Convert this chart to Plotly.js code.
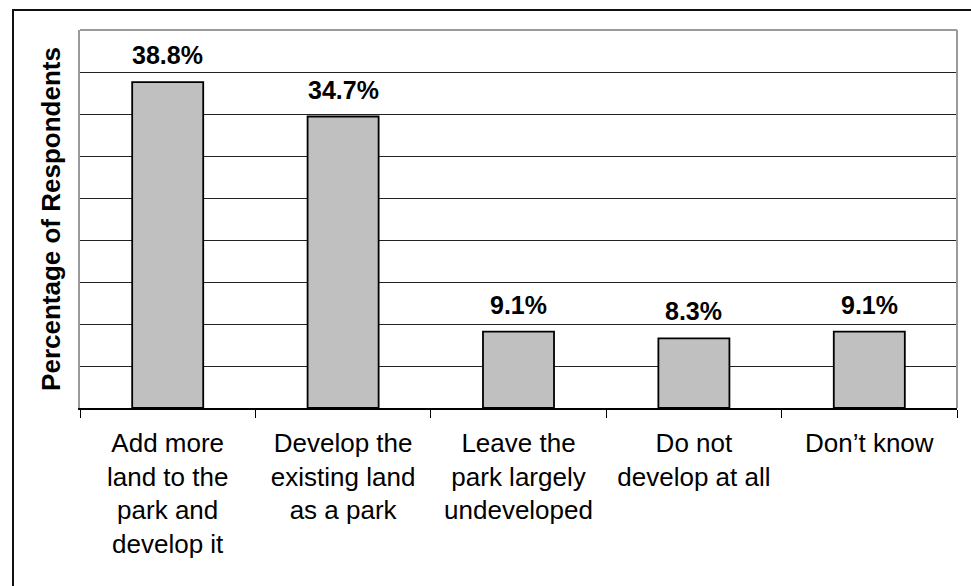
<!DOCTYPE html>
<html>
<head>
<meta charset="utf-8">
<script src="https://cdn.plot.ly/plotly-3.0.1.min.js"></script>
<style>
  html, body { margin: 0; padding: 0; background: #fff; }
  #wrap { position: relative; width: 971px; height: 586px; overflow: hidden; }
  #chart { position: absolute; left: 0; top: 0; width: 971px; height: 586px; }
  #frame { position: absolute; left: 12px; top: 9px; width: 958px; height: 600px;
           border-left: 2px solid #111; border-top: 2px solid #111; pointer-events: none; }
</style>
</head>
<body>
<div id="wrap">
  <div id="chart"></div>
  <div id="frame"></div>
</div>
<script>
// Survey responses: preferred future for the park
const categories = [
  "Add more<br>land to the<br>park and<br>develop it",
  "Develop the<br>existing land<br>as a park",
  "Leave the<br>park largely<br>undeveloped",
  "Do not<br>develop at all",
  "Don\u2019t know"
];
const percentages = [38.8, 34.7, 9.1, 8.3, 9.1];
const gridValues = [5, 10, 15, 20, 25, 30, 35, 40];

const FONT = "Liberation Sans, Arial, Helvetica, sans-serif";

const trace = {
  type: "bar",
  x: categories,
  y: percentages,
  marker: { color: "#c0c0c0", line: { color: "#000", width: 1.8 } },
  hoverinfo: "skip"
};

// value labels above each bar
const labels = categories.map((c, i) => ({
  x: c, y: percentages[i], xref: "x", yref: "y",
  text: "<b>" + percentages[i].toFixed(1) + "%</b>",
  showarrow: false, yanchor: "bottom", yshift: 11,
  font: { family: FONT, size: 25, color: "#000" }
}));

const layout = {
  width: 971, height: 586,
  margin: { l: 80, r: 14, t: 30, b: 178, pad: 0 },
  paper_bgcolor: "#fff", plot_bgcolor: "#fff",
  showlegend: false,
  bargap: 0.595,
  xaxis: {
    type: "category",
    showline: true, linecolor: "#000", linewidth: 1.5,
    ticks: "outside", tickson: "boundaries", ticklen: 8, tickcolor: "#000", tickwidth: 1,
    tickfont: { family: FONT, size: 26, color: "#000" },
    ticklabelstandoff: 11,
    showgrid: false, zeroline: false, fixedrange: true
  },
  yaxis: {
    range: [0, 45],
    tickvals: gridValues, showticklabels: false, ticks: "",
    showgrid: true, gridcolor: "#222", gridwidth: 1,
    showline: true, linecolor: "#9a9a9a", linewidth: 2,
    zeroline: false, fixedrange: true,
    title: { text: "<b>Percentage of Respondents</b>", standoff: 10,
             font: { family: FONT, size: 26, color: "#000" } }
  },
  annotations: labels,
  shapes: [
    // plot-area frame: top and right edges in grey
    { type: "line", xref: "paper", yref: "paper", x0: 0, x1: 1, y0: 1, y1: 1,
      line: { color: "#9a9a9a", width: 2 } },
    { type: "line", xref: "paper", yref: "paper", x0: 1, x1: 1, y0: 0, y1: 1,
      line: { color: "#9a9a9a", width: 2 } }
  ]
};

Plotly.newPlot("chart", [trace], layout, { staticPlot: true, displayModeBar: false });
</script>
</body>
</html>
